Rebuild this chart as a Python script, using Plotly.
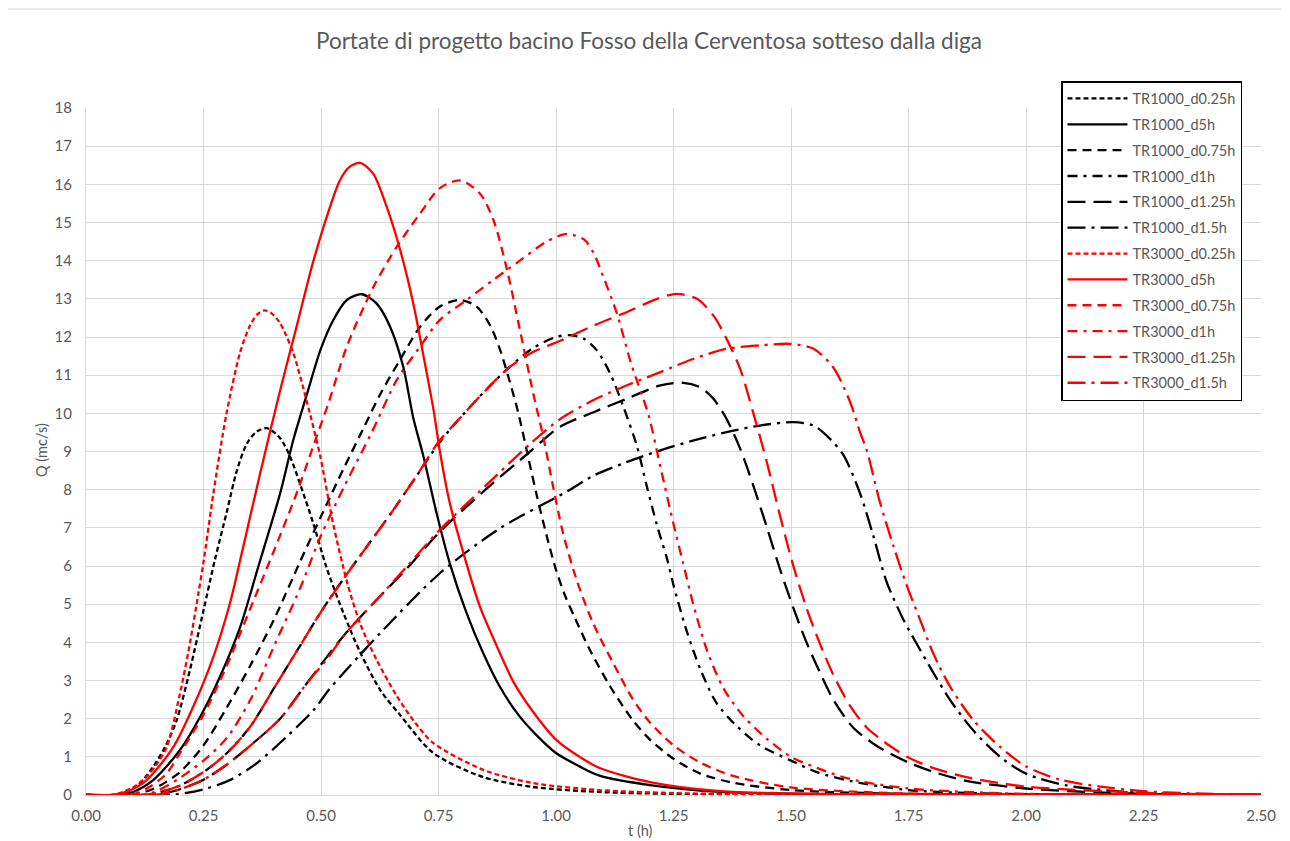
import plotly.graph_objects as go

# ---- data (t in hours, Q in m3/s) ----
t_TR1000_d025 = [0, 0.06, 0.08, 0.11, 0.143, 0.17, 0.193, 0.221, 0.25, 0.274, 0.299, 0.321, 0.342, 0.363, 0.385, 0.413, 0.434, 0.455, 0.484, 0.512, 0.548, 0.583, 0.626, 0.668, 0.739, 0.845, 0.951, 1.09, 1.25, 1.5, 2.5]
q_TR1000_d025 = [0, 0, 0.05, 0.25, 0.74, 1.3, 1.96, 3.27, 4.84, 6.15, 7.39, 8.5, 9.2, 9.52, 9.61, 9.35, 8.87, 8.17, 7.1, 5.95, 4.76, 3.75, 2.75, 2.1, 1.1, 0.47, 0.21, 0.08, 0.03, 0.01, 0]

t_TR1000_d5 = [0, 0.07, 0.1, 0.143, 0.2, 0.243, 0.285, 0.328, 0.367, 0.413, 0.441, 0.47, 0.5, 0.526, 0.555, 0.587, 0.618, 0.647, 0.675, 0.696, 0.718, 0.746, 0.774, 0.81, 0.845, 0.88, 0.92, 0.96, 1.0, 1.05, 1.094, 1.2, 1.35, 1.6, 2.5]
q_TR1000_d5 = [0, 0, 0.08, 0.39, 1.18, 2.05, 3.1, 4.4, 6.0, 7.9, 9.3, 10.5, 11.7, 12.44, 12.97, 13.12, 12.88, 12.27, 11.22, 9.9, 8.87, 7.38, 6.07, 4.76, 3.72, 2.85, 2.1, 1.55, 1.1, 0.75, 0.5, 0.26, 0.08, 0.02, 0]

t_TR1000_d075 = [0, 0.1, 0.15, 0.2, 0.25, 0.3, 0.35, 0.4, 0.455, 0.5, 0.55, 0.59, 0.626, 0.668, 0.711, 0.753, 0.796, 0.831, 0.86, 0.88, 0.9, 0.92, 0.94, 0.96, 0.98, 1.0, 1.02, 1.04, 1.07, 1.115, 1.164, 1.2, 1.25, 1.307, 1.377, 1.5, 1.75, 2.5]
q_TR1000_d075 = [0, 0, 0.2, 0.6, 1.3, 2.3, 3.4, 4.6, 6.1, 7.3, 8.6, 9.6, 10.5, 11.4, 12.27, 12.8, 12.97, 12.8, 12.3, 11.7, 10.9, 10.0, 8.9, 7.8, 6.8, 5.9, 5.2, 4.65, 3.85, 2.85, 1.95, 1.45, 0.95, 0.56, 0.32, 0.13, 0.03, 0]

t_TR1000_d1 = [0, 0.12, 0.15, 0.2, 0.25, 0.3, 0.35, 0.4, 0.455, 0.5, 0.55, 0.6, 0.65, 0.7, 0.75, 0.79, 0.85, 0.9, 0.95, 1.0, 1.03, 1.06, 1.087, 1.115, 1.144, 1.172, 1.193, 1.215, 1.236, 1.25, 1.278, 1.307, 1.342, 1.385, 1.434, 1.5, 1.555, 1.625, 1.75, 2.0, 2.5]
q_TR1000_d1 = [0, 0, 0.05, 0.25, 0.6, 1.1, 1.8, 2.8, 3.9, 4.8, 5.7, 6.55, 7.4, 8.3, 9.2, 9.8, 10.6, 11.2, 11.7, 12.0, 12.05, 11.95, 11.65, 11.05, 10.15, 9.15, 8.1, 7.06, 6.2, 5.5, 4.3, 3.3, 2.4, 1.8, 1.3, 0.9, 0.6, 0.37, 0.13, 0.02, 0]

t_TR1000_d125 = [0, 0.14, 0.17, 0.2, 0.25, 0.3, 0.35, 0.413, 0.47, 0.55, 0.618, 0.68, 0.753, 0.85, 0.945, 1.009, 1.08, 1.15, 1.222, 1.271, 1.307, 1.335, 1.363, 1.392, 1.42, 1.449, 1.477, 1.505, 1.533, 1.562, 1.59, 1.632, 1.682, 1.75, 1.802, 1.873, 2.0, 2.25, 2.5]
q_TR1000_d125 = [0, 0, 0.05, 0.15, 0.4, 0.8, 1.3, 2.0, 2.93, 4.2, 5.11, 5.9, 6.9, 8.0, 9.0, 9.65, 10.03, 10.38, 10.73, 10.8, 10.68, 10.38, 9.85, 9.07, 8.1, 7.0, 5.9, 4.9, 4.0, 3.2, 2.5, 1.77, 1.29, 0.85, 0.61, 0.37, 0.17, 0.03, 0]

t_TR1000_d15 = [0, 0.18, 0.25, 0.306, 0.363, 0.427, 0.484, 0.519, 0.626, 0.753, 0.881, 1.023, 1.08, 1.15, 1.222, 1.293, 1.363, 1.434, 1.505, 1.548, 1.583, 1.612, 1.647, 1.675, 1.703, 1.739, 1.775, 1.803, 1.839, 1.888, 1.945, 2.0, 2.087, 2.25, 2.5]
q_TR1000_d15 = [0, 0, 0.15, 0.39, 0.83, 1.53, 2.22, 2.79, 4.24, 5.81, 6.99, 7.95, 8.37, 8.72, 9.03, 9.29, 9.51, 9.68, 9.77, 9.68, 9.33, 8.9, 7.9, 6.8, 5.6, 4.6, 3.8, 3.2, 2.48, 1.69, 1.0, 0.56, 0.25, 0.05, 0]

t_TR3000_d025 = [0, 0.05, 0.072, 0.1, 0.129, 0.15, 0.172, 0.2, 0.221, 0.239, 0.25, 0.271, 0.299, 0.328, 0.349, 0.365, 0.38, 0.395, 0.413, 0.441, 0.47, 0.498, 0.526, 0.555, 0.583, 0.618, 0.661, 0.7, 0.739, 0.845, 0.952, 1.09, 1.25, 1.5, 2.5]
q_TR3000_d025 = [0, 0, 0.05, 0.2, 0.48, 0.8, 1.26, 2.66, 3.97, 5.27, 6.1, 7.9, 10.0, 11.6, 12.3, 12.6, 12.7, 12.62, 12.36, 11.58, 10.3, 8.9, 7.1, 5.6, 4.5, 3.55, 2.6, 1.9, 1.36, 0.66, 0.31, 0.13, 0.05, 0.01, 0]

t_TR3000_d5 = [0, 0.058, 0.09, 0.129, 0.186, 0.228, 0.271, 0.306, 0.328, 0.37, 0.413, 0.448, 0.484, 0.519, 0.54, 0.56, 0.583, 0.611, 0.64, 0.668, 0.696, 0.725, 0.74, 0.753, 0.774, 0.803, 0.838, 0.874, 0.91, 0.95, 1.0, 1.05, 1.094, 1.2, 1.35, 1.6, 2.5]
q_TR3000_d5 = [0, 0, 0.1, 0.39, 1.26, 2.31, 3.62, 5.01, 6.15, 8.4, 10.6, 12.27, 14.0, 15.4, 16.1, 16.45, 16.56, 16.28, 15.4, 14.3, 12.9, 11.05, 10.05, 9.0, 7.65, 6.34, 4.94, 3.9, 2.95, 2.2, 1.45, 1.0, 0.7, 0.34, 0.1, 0.02, 0]

t_TR3000_d075 = [0, 0.08, 0.108, 0.14, 0.172, 0.2, 0.25, 0.3, 0.35, 0.4, 0.448, 0.491, 0.516, 0.555, 0.611, 0.661, 0.711, 0.753, 0.796, 0.838, 0.867, 0.895, 0.923, 0.952, 0.973, 0.994, 1.015, 1.044, 1.079, 1.122, 1.164, 1.2, 1.25, 1.307, 1.377, 1.5, 1.75, 2.5]
q_TR3000_d075 = [0, 0, 0.05, 0.25, 0.57, 1.1, 2.1, 3.4, 4.9, 6.4, 7.9, 9.4, 10.27, 11.75, 13.3, 14.36, 15.24, 15.9, 16.1, 15.76, 15.06, 13.8, 12.2, 10.5, 9.38, 8.07, 6.86, 5.63, 4.5, 3.45, 2.5, 1.9, 1.3, 0.85, 0.5, 0.2, 0.04, 0]

t_TR3000_d1 = [0, 0.12, 0.15, 0.2, 0.25, 0.3, 0.35, 0.4, 0.455, 0.5, 0.55, 0.608, 0.661, 0.711, 0.753, 0.81, 0.867, 0.923, 0.98, 1.023, 1.06, 1.08, 1.1, 1.13, 1.16, 1.197, 1.222, 1.25, 1.27, 1.292, 1.321, 1.356, 1.399, 1.448, 1.5, 1.555, 1.625, 1.75, 2.0, 2.5]
q_TR3000_d1 = [0, 0, 0.1, 0.45, 0.9, 1.5, 2.5, 3.9, 5.4, 6.8, 8.1, 9.5, 10.87, 11.75, 12.45, 12.97, 13.5, 14.0, 14.5, 14.7, 14.55, 14.2, 13.6, 12.6, 11.3, 9.95, 8.6, 7.1, 6.1, 5.0, 3.8, 2.8, 2.06, 1.48, 1.0, 0.71, 0.42, 0.17, 0.03, 0]

t_TR3000_d125 = [0, 0.12, 0.15, 0.2, 0.25, 0.3, 0.35, 0.4, 0.455, 0.5, 0.55, 0.6, 0.65, 0.7, 0.75, 0.79, 0.85, 0.9, 0.95, 1.009, 1.08, 1.15, 1.215, 1.257, 1.3, 1.335, 1.363, 1.392, 1.42, 1.449, 1.477, 1.505, 1.533, 1.562, 1.59, 1.625, 1.661, 1.71, 1.75, 1.802, 1.873, 2.0, 2.25, 2.5]
q_TR3000_d125 = [0, 0, 0.05, 0.25, 0.6, 1.1, 1.8, 2.8, 3.9, 4.8, 5.7, 6.55, 7.4, 8.3, 9.25, 9.8, 10.6, 11.2, 11.6, 11.9, 12.3, 12.65, 13.0, 13.13, 13.0, 12.56, 11.95, 11.16, 10.0, 8.7, 7.3, 6.0, 4.9, 3.95, 3.15, 2.35, 1.77, 1.29, 0.98, 0.71, 0.47, 0.22, 0.06, 0]

t_TR3000_d15 = [0, 0.14, 0.17, 0.2, 0.25, 0.3, 0.35, 0.413, 0.47, 0.512, 0.55, 0.618, 0.68, 0.753, 0.85, 0.945, 1.009, 1.08, 1.15, 1.222, 1.293, 1.363, 1.434, 1.498, 1.548, 1.59, 1.626, 1.647, 1.661, 1.689, 1.718, 1.746, 1.775, 1.803, 1.839, 1.888, 1.945, 2.0, 2.073, 2.158, 2.25, 2.335, 2.5]
q_TR3000_d15 = [0, 0, 0.05, 0.15, 0.4, 0.8, 1.3, 2.0, 2.93, 3.55, 4.2, 5.11, 5.95, 6.95, 8.1, 9.2, 9.85, 10.35, 10.73, 11.08, 11.43, 11.69, 11.78, 11.82, 11.69, 11.2, 10.29, 9.5, 9.04, 7.68, 6.52, 5.5, 4.58, 3.7, 2.83, 1.96, 1.26, 0.75, 0.4, 0.22, 0.1, 0.05, 0]

series_names = ["TR1000_d0.25h", "TR1000_d5h", "TR1000_d0.75h", "TR1000_d1h", "TR1000_d1.25h", "TR1000_d1.5h",
                "TR3000_d0.25h", "TR3000_d5h", "TR3000_d0.75h", "TR3000_d1h", "TR3000_d1.25h", "TR3000_d1.5h"]
series_t = [t_TR1000_d025, t_TR1000_d5, t_TR1000_d075, t_TR1000_d1, t_TR1000_d125, t_TR1000_d15,
            t_TR3000_d025, t_TR3000_d5, t_TR3000_d075, t_TR3000_d1, t_TR3000_d125, t_TR3000_d15]
series_q = [q_TR1000_d025, q_TR1000_d5, q_TR1000_d075, q_TR1000_d1, q_TR1000_d125, q_TR1000_d15,
            q_TR3000_d025, q_TR3000_d5, q_TR3000_d075, q_TR3000_d1, q_TR3000_d125, q_TR3000_d15]

x_ticks = [0, 0.25, 0.5, 0.75, 1.0, 1.25, 1.5, 1.75, 2.0, 2.25, 2.5]
y_ticks = list(range(0, 19))

# ---- styles ----
dash_styles = ["5px,3px", "solid", "9px,6px", "10px,6px,3px,6px", "18px,8px", "18px,6px,3px,6px"]
colors = ["#000000"] * 6 + ["#FF0000"] * 6
dashes = dash_styles + dash_styles

fig = go.Figure()
for i, (name, tt, qq) in enumerate(zip(series_names, series_t, series_q)):
    fig.add_trace(go.Scatter(
        x=tt, y=qq, mode="lines", name=name,
        line=dict(color=colors[i], width=2.3, dash=dashes[i], shape="spline", smoothing=0.8),
        legendgroup=f"g{i}",
    ))

grid_col = "#D9D9D9"
txt_col = "#595959"
font_fam = "Lato, 'Open Sans', sans-serif"

# page is offset by the 8px body margin; figure coordinates = page - 8
W, H = 1282, 833
PL, PR, PT, PB = 86, 1261, 108, 795   # plot area in page pixels
pw, ph = PR - PL, PB - PT


def px(x):
    return (x - PL) / pw


def py(y):
    return (PB - y) / ph


fig.update_layout(
    width=W, height=H,
    paper_bgcolor="white", plot_bgcolor="white",
    margin=dict(l=PL - 8, r=W - (PR - 8), t=PT - 8, b=H - (PB - 8)),
    font=dict(family=font_fam, color=txt_col, size=14),
    title=dict(text="Portate di progetto bacino Fosso della Cerventosa sotteso dalla diga",
               x=(649 - 8) / W, xref="container", xanchor="center",
               y=1 - (41 - 8) / H, yref="container", yanchor="middle",
               font=dict(size=22.5, color=txt_col, family=font_fam)),
    showlegend=True,
    legend=dict(x=px(1061), y=py(81), xanchor="left", yanchor="top",
                bgcolor="white", bordercolor="#000000", borderwidth=1.5,
                font=dict(size=14.5, color=txt_col, family=font_fam),
                traceorder="grouped", tracegroupgap=4, itemwidth=60),
    xaxis=dict(range=[0, 2.5], tickvals=x_ticks, tickformat=".2f",
               showgrid=True, gridcolor=grid_col, gridwidth=1,
               zeroline=False, showline=True, linecolor=grid_col, linewidth=1,
               ticks="", tickfont=dict(size=15, color=txt_col), ticklabelstandoff=7),
    yaxis=dict(range=[0, 18], tickvals=y_ticks,
               showgrid=True, gridcolor=grid_col, gridwidth=1,
               zeroline=False, showline=True, linecolor=grid_col, linewidth=1,
               ticks="", tickfont=dict(size=15, color=txt_col), ticklabelstandoff=10),
    annotations=[
        dict(text="Q (mc/s)", xref="paper", yref="paper", x=px(41), y=py(450),
             showarrow=False, textangle=-90, font=dict(size=14.5, color=txt_col, family=font_fam),
             xanchor="center", yanchor="middle"),
        dict(text="t (h)", xref="paper", yref="paper", x=px(640), y=py(830),
             showarrow=False, font=dict(size=14.5, color=txt_col, family=font_fam),
             xanchor="center", yanchor="middle"),
    ],
    shapes=[
        dict(type="line", xref="paper", yref="paper", x0=px(8), x1=px(1288), y0=py(9), y1=py(9),
             line=dict(color=grid_col, width=1), layer="below"),
        dict(type="line", xref="paper", yref="paper", x0=px(1288), x1=px(1288), y0=py(9), y1=py(845),
             line=dict(color=grid_col, width=1), layer="below"),
    ],
)

fig.write_html("out.html")
